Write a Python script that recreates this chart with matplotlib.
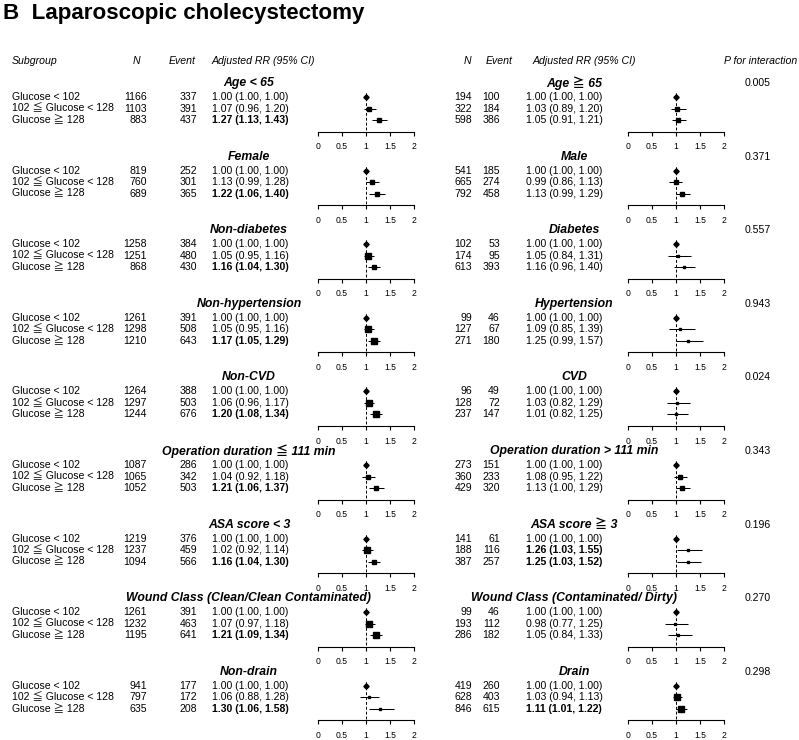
import numpy as np
import matplotlib
matplotlib.use("Agg")
import matplotlib.pyplot as plt

plt.rcParams['font.family'] = ['Liberation Sans', 'Noto Sans CJK JP', 'DejaVu Sans']

# ---- data ----
row_labels = ["Glucose < 102", "102 \u2266 Glucose < 128", "Glucose \u2267 128"]

left_titles = ["Age < 65", "Female", "Non-diabetes", "Non-hypertension", "Non-CVD",
               "Operation duration \u2266 111 min", "ASA score < 3",
               "Wound Class (Clean/Clean Contaminated)", "Non-drain"]
right_titles = ["Age \u2267 65", "Male", "Diabetes", "Hypertension", "CVD",
                "Operation duration > 111 min", "ASA score \u2267 3",
                "Wound Class (Contaminated/ Dirty)", "Drain"]
p_interaction = ["0.005", "0.371", "0.557", "0.943", "0.024", "0.343", "0.196", "0.270", "0.298"]

left_n = [[1166, 1103, 883], [819, 760, 689], [1258, 1251, 868], [1261, 1298, 1210],
          [1264, 1297, 1244], [1087, 1065, 1052], [1219, 1237, 1094], [1261, 1232, 1195],
          [941, 797, 635]]
left_event = [[337, 391, 437], [252, 301, 365], [384, 480, 430], [391, 508, 643],
              [388, 503, 676], [286, 342, 503], [376, 459, 566], [391, 463, 641],
              [177, 172, 208]]
left_rr = [[1.00, 1.07, 1.27], [1.00, 1.13, 1.22], [1.00, 1.05, 1.16], [1.00, 1.05, 1.17],
           [1.00, 1.06, 1.20], [1.00, 1.04, 1.21], [1.00, 1.02, 1.16], [1.00, 1.07, 1.21],
           [1.00, 1.06, 1.30]]
left_lo = [[1.00, 0.96, 1.13], [1.00, 0.99, 1.06], [1.00, 0.95, 1.04], [1.00, 0.95, 1.05],
           [1.00, 0.96, 1.08], [1.00, 0.92, 1.06], [1.00, 0.92, 1.04], [1.00, 0.97, 1.09],
           [1.00, 0.88, 1.06]]
left_hi = [[1.00, 1.20, 1.43], [1.00, 1.28, 1.40], [1.00, 1.16, 1.30], [1.00, 1.16, 1.29],
           [1.00, 1.17, 1.34], [1.00, 1.18, 1.37], [1.00, 1.14, 1.30], [1.00, 1.18, 1.34],
           [1.00, 1.28, 1.58]]

right_n = [[194, 322, 598], [541, 665, 792], [102, 174, 613], [99, 127, 271],
           [96, 128, 237], [273, 360, 429], [141, 188, 387], [99, 193, 286],
           [419, 628, 846]]
right_event = [[100, 184, 386], [185, 274, 458], [53, 95, 393], [46, 67, 180],
               [49, 72, 147], [151, 233, 320], [61, 116, 257], [46, 112, 182],
               [260, 403, 615]]
right_rr = [[1.00, 1.03, 1.05], [1.00, 0.99, 1.13], [1.00, 1.05, 1.16], [1.00, 1.09, 1.25],
            [1.00, 1.03, 1.01], [1.00, 1.08, 1.13], [1.00, 1.26, 1.25], [1.00, 0.98, 1.05],
            [1.00, 1.03, 1.11]]
right_lo = [[1.00, 0.89, 0.91], [1.00, 0.86, 0.99], [1.00, 0.84, 0.96], [1.00, 0.85, 0.99],
            [1.00, 0.82, 0.82], [1.00, 0.95, 1.00], [1.00, 1.03, 1.03], [1.00, 0.77, 0.84],
            [1.00, 0.94, 1.01]]
right_hi = [[1.00, 1.20, 1.21], [1.00, 1.13, 1.29], [1.00, 1.31, 1.40], [1.00, 1.39, 1.57],
            [1.00, 1.29, 1.25], [1.00, 1.22, 1.29], [1.00, 1.55, 1.52], [1.00, 1.25, 1.33],
            [1.00, 1.13, 1.22]]

xticks = [0, 0.5, 1, 1.5, 2]
xtick_labels = ["0", "0.5", "1", "1.5", "2"]

# ---- layout (pixels) ----
W, H = 799, 740
fig = plt.figure(figsize=(W / 100, H / 100), dpi=100)
bg = fig.add_axes([0, 0, 1, 1])
bg.set_xlim(0, W)
bg.set_ylim(H, 0)
bg.axis('off')

fs = 7.6
fig.text(3 / W, 1 - 13 / H, "B  Laparoscopic cholecystectomy", fontsize=16.1,
         fontweight='bold', va='center', ha='left')

hy = 61
bg.text(12, hy, "Subgroup", fontsize=fs, style='italic', va='center')
bg.text(140, hy, "N", fontsize=fs, style='italic', va='center', ha='right')
bg.text(196, hy, "Event", fontsize=fs, style='italic', va='center', ha='right')
bg.text(212, hy, "Adjusted RR (95% CI)", fontsize=fs, style='italic', va='center')
bg.text(471, hy, "N", fontsize=fs, style='italic', va='center', ha='right')
bg.text(513, hy, "Event", fontsize=fs, style='italic', va='center', ha='right')
bg.text(533, hy, "Adjusted RR (95% CI)", fontsize=fs, style='italic', va='center')
bg.text(797, hy, "P for interaction", fontsize=fs, style='italic', va='center', ha='right')

sides = [
    dict(titles=left_titles, n=left_n, ev=left_event, rr=left_rr, lo=left_lo, hi=left_hi,
         nx=147, ex=197, rx=212, fx=318, tx=249, labels=True),
    dict(titles=right_titles, n=right_n, ev=right_event, rr=right_rr, lo=right_lo, hi=right_hi,
         nx=472, ex=500, rx=526, fx=628, tx=574, labels=False),
]

pitch = 73.6
for k in range(9):
    ty = 83 + pitch * k
    bg.text(758, ty, p_interaction[k], fontsize=fs, va='center', ha='center')
    for s in sides:
        bg.text(s['tx'], ty, s['titles'][k], fontsize=8.8, fontweight='bold',
                style='italic', va='center', ha='center')

        rows_y = [ty + 14 + 11.5 * i for i in range(3)]
        for i, y in enumerate(rows_y):
            if s['labels']:
                bg.text(12, y, row_labels[i], fontsize=fs, va='center')
            bg.text(s['nx'], y, str(s['n'][k][i]), fontsize=fs, va='center', ha='right')
            bg.text(s['ex'], y, str(s['ev'][k][i]), fontsize=fs, va='center', ha='right')
            rr, lo, hi = s['rr'][k][i], s['lo'][k][i], s['hi'][k][i]
            bold = lo > 1.0 or hi < 1.0
            bg.text(s['rx'], y, f"{rr:.2f} ({lo:.2f}, {hi:.2f})", fontsize=fs,
                    va='center', fontweight='bold' if bold else 'normal')

        # forest panel
        top, bot = ty + 8, ty + 48.5
        ax = fig.add_axes([s['fx'] / W, 1 - bot / H, 96 / W, (bot - top) / H])
        ax.set_xlim(0, 2)
        ax.set_ylim(bot - ty, top - ty)
        ax.patch.set_visible(False)
        for sp in ['top', 'left', 'right']:
            ax.spines[sp].set_visible(False)
        ax.spines['bottom'].set_linewidth(0.8)
        ax.set_yticks([])
        ax.set_xticks(xticks)
        ax.set_xticklabels(xtick_labels, fontsize=6.2)
        ax.tick_params(axis='x', direction='out', length=3.2, width=0.8, pad=4.5)
        ax.vlines(1, 10, bot - ty, colors='black', linestyles=(0, (3, 2)), linewidth=0.7)
        for i in range(3):
            y = 14 + 11.5 * i
            rr, lo, hi = s['rr'][k][i], s['lo'][k][i], s['hi'][k][i]
            if hi > lo:
                ax.hlines(y, lo, hi, colors='black', linewidth=0.75)
                w = 1.0 / (np.log(hi) - np.log(lo))
                size_px = float(np.clip(1.1 * w, 2.6, 6.5))
                ax.plot(rr, y, marker='s', color='black', markersize=size_px * 0.72,
                        linestyle='none', clip_on=False)
            else:
                ax.plot(rr, y, marker='D', color='black', markersize=2.7,
                        linestyle='none', clip_on=False)
                ax.vlines(rr, y - 4, y, colors='black', linewidth=0.7)

fig.savefig("out.png", dpi=100)
